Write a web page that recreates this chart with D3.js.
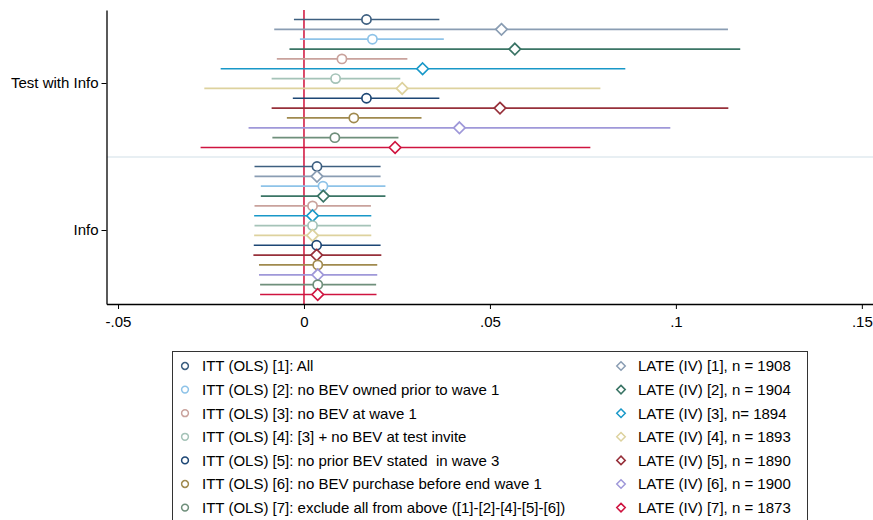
<!DOCTYPE html>
<html>
<head>
<meta charset="utf-8">
<script src="https://cdn.jsdelivr.net/npm/d3@7"></script>
<style>
  body { margin: 0; background: #fff; }
  text { font-family: "Liberation Sans", Arial, sans-serif; fill: #000; white-space: pre; }
</style>
</head>
<body>
<script>
// groups on the y axis
var groups = ["Test with Info", "Info"];

// series (ITT and LATE interleaved, top to bottom inside each group)
var seriesNames = [
  "ITT (OLS) [1]: All",
  "LATE (IV) [1], n = 1908",
  "ITT (OLS) [2]: no BEV owned prior to wave 1",
  "LATE (IV) [2], n = 1904",
  "ITT (OLS) [3]: no BEV at wave 1",
  "LATE (IV) [3], n= 1894",
  "ITT (OLS) [4]: [3] + no BEV at test invite",
  "LATE (IV) [4], n = 1893",
  "ITT (OLS) [5]: no prior BEV stated  in wave 3",
  "LATE (IV) [5], n = 1890",
  "ITT (OLS) [6]: no BEV purchase before end wave 1",
  "LATE (IV) [6], n = 1900",
  "ITT (OLS) [7]: exclude all from above ([1]-[2]-[4]-[5]-[6])",
  "LATE (IV) [7], n = 1873"
];
var seriesShape = ["circle","diamond","circle","diamond","circle","diamond","circle",
                   "diamond","circle","diamond","circle","diamond","circle","diamond"];
var seriesColor = ["#3d5f80","#8a9db3","#8ec3e8","#3a7465","#c9a29c","#1898c8","#a5c3b8",
                   "#ddd29e","#1d4775","#97303a","#a08a4e","#9f98d9","#6f8f7b","#cf1440"];

// estimates and 95% CIs, "Test with Info"
var testEst = [0.0168, 0.0531, 0.0184, 0.0567, 0.0102, 0.0319, 0.0085,
               0.0264, 0.0168, 0.0527, 0.0134, 0.0418, 0.0083, 0.0245];
var testLo  = [-0.0027, -0.0080, -0.0011, -0.0039, -0.0073, -0.0224, -0.0087,
               -0.0268, -0.0030, -0.0087, -0.0046, -0.0149, -0.0085, -0.0278];
var testHi  = [0.0364, 0.1140, 0.0376, 0.1173, 0.0278, 0.0864, 0.0259,
               0.0797, 0.0364, 0.1141, 0.0316, 0.0985, 0.0254, 0.0770];

// estimates and 95% CIs, "Info"
var infoEst = [0.0035, 0.0035, 0.0051, 0.0052, 0.0023, 0.0023, 0.0023,
               0.0023, 0.0034, 0.0034, 0.0037, 0.0037, 0.0037, 0.0037];
var infoLo  = [-0.0133, -0.0133, -0.0116, -0.0116, -0.0133, -0.0134, -0.0133,
               -0.0134, -0.0135, -0.0136, -0.0121, -0.0121, -0.0118, -0.0118];
var infoHi  = [0.0206, 0.0206, 0.0219, 0.0219, 0.0180, 0.0181, 0.0180,
               0.0181, 0.0206, 0.0208, 0.0197, 0.0197, 0.0194, 0.0195];

var xTicks = [-0.05, 0, 0.05, 0.1, 0.15];
var xTickLabels = ["-.05", "0", ".05", ".1", ".15"];

var width = 873, height = 520;
var svg = d3.select("body").append("svg")
  .attr("width", width)
  .attr("height", height);

var x = d3.scaleLinear().domain([-0.0531, 0.1530]).range([106.5, 873]);
var y = d3.scaleBand().domain(groups).range([10, 304]);
var row = d3.scalePoint().domain(d3.range(14)).range([-64, 64]);

var data = [];
seriesNames.forEach(function (name, i) {
  data.push({g: groups[0], i: i, est: testEst[i], lo: testLo[i], hi: testHi[i]});
  data.push({g: groups[1], i: i, est: infoEst[i], lo: infoLo[i], hi: infoHi[i]});
});
function rowY(d) { return y(d.g) + y.bandwidth() / 2 + row(d.i); }

// band separator
svg.append("line")
  .attr("x1", 107).attr("x2", width)
  .attr("y1", y("Info")).attr("y2", y("Info"))
  .attr("stroke", "#e8eff3").attr("stroke-width", 2);

// zero line
svg.append("line")
  .attr("x1", x(0)).attr("x2", x(0))
  .attr("y1", 10).attr("y2", 304)
  .attr("stroke", "#d0103a").attr("stroke-width", 1.5);

// CI lines
svg.append("g").selectAll("line").data(data).enter().append("line")
  .attr("x1", function (d) { return x(d.lo); })
  .attr("x2", function (d) { return x(d.hi); })
  .attr("y1", rowY).attr("y2", rowY)
  .attr("stroke", function (d) { return seriesColor[d.i]; })
  .attr("stroke-width", 1.7);

function markerPath(shape, s) {
  if (shape == "circle") {
    return "M" + (-s) + ",0A" + s + "," + s + " 0 1,0 " + s + ",0A" + s + "," + s + " 0 1,0 " + (-s) + ",0Z";
  }
  var r = s * 1.25;
  return "M0," + (-r) + "L" + r + ",0L0," + r + "L" + (-r) + ",0Z";
}

// point estimates
svg.append("g").selectAll("path").data(data).enter().append("path")
  .attr("transform", function (d) { return "translate(" + x(d.est) + "," + rowY(d) + ")"; })
  .attr("d", function (d) { return markerPath(seriesShape[d.i], 4.6); })
  .attr("fill", "#fff")
  .attr("stroke", function (d) { return seriesColor[d.i]; })
  .attr("stroke-width", 1.7);

// axes
var xAxis = d3.axisBottom(x).tickValues(xTicks)
  .tickFormat(function (d, i) { return xTickLabels[i]; })
  .tickSize(5).tickSizeOuter(0);
var gx = svg.append("g").attr("transform", "translate(0,304)").call(xAxis);
gx.select(".domain").attr("stroke", "#000").attr("stroke-width", 1.3);
gx.selectAll(".tick line").attr("stroke", "#000");
gx.selectAll(".tick text").attr("font-size", 15).attr("dy", "1em")
  .style("font-family", "'Liberation Sans', Arial, sans-serif");

var yAxis = d3.axisLeft(y).tickSize(5).tickSizeOuter(0).tickPadding(3);
var gy = svg.append("g").attr("transform", "translate(106.5,0)").call(yAxis);
gy.select(".domain").attr("stroke", "#000").attr("stroke-width", 1.3);
gy.selectAll(".tick line").attr("stroke", "#000");
gy.selectAll(".tick text").attr("font-size", 15)
  .style("font-family", "'Liberation Sans', Arial, sans-serif");

// legend
var legend = svg.append("g");
legend.append("rect")
  .attr("x", 172.5).attr("y", 351.5)
  .attr("width", 635).attr("height", 180)
  .attr("fill", "#fff").attr("stroke", "#333").attr("stroke-width", 1);

var legendItems = seriesNames.map(function (name, i) {
  return {name: name, i: i, col: i % 2, r: Math.floor(i / 2)};
});
var li = legend.selectAll("g.item").data(legendItems).enter().append("g")
  .attr("class", "item")
  .attr("transform", function (d) {
    return "translate(" + (d.col == 0 ? 185 : 621) + "," + (366 + d.r * 23.6) + ")";
  });
li.append("path")
  .attr("d", function (d) { return markerPath(seriesShape[d.i], 3.4); })
  .attr("fill", "#fff")
  .attr("stroke", function (d) { return seriesColor[d.i]; })
  .attr("stroke-width", 1.5);
li.append("text")
  .attr("x", 17).attr("dy", "0.36em")
  .attr("font-size", 15)
  .text(function (d) { return d.name; });
</script>
</body>
</html>
